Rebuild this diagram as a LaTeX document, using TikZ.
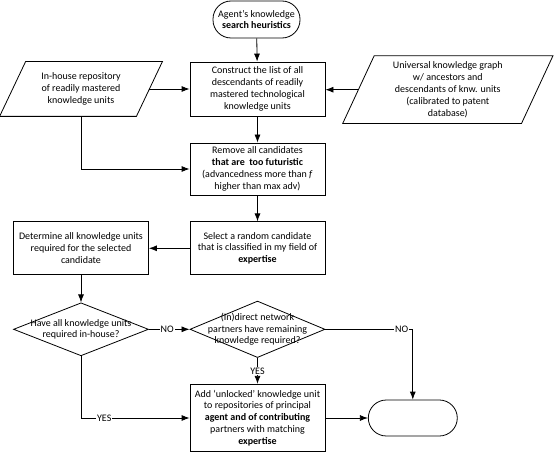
\documentclass[tikz,border=0pt]{standalone}
\usepackage{fontspec}
\setmainfont{Carlito}
\usepackage{tikz}
\usetikzlibrary{shapes.geometric,arrows.meta}

\tikzset{
    txt/.style={font=\fontsize{10}{11.9}\selectfont,align=center},
    proc/.style={draw,txt,minimum width=135,minimum height=53,inner sep=2pt},
    term/.style={draw,txt,rounded corners=18pt,minimum width=88,minimum height=36},
    io/.style={txt,inner sep=0pt},
    dec/.style={draw,diamond,minimum width=135,minimum height=53,inner sep=0pt},
    arr/.style={-{Latex[length=8pt,width=6pt]}},
    yn/.style={txt,fill=white,inner sep=1pt}
}

\begin{document}
\begin{tikzpicture}[x=1pt,y=-1pt,line width=0.8pt]
    \useasboundingbox (0,0) rectangle (555,452);
    \node[term,minimum width=87,minimum height=37] (1) at (256.5,19.5) {Agent’s knowledge\\\textbf{search heuristics}};
    \node[io,minimum width=136,minimum height=54] (2) at (81,89) {In-house repository\\of readily mastered\\knowledge units};
    \node[proc,minimum height=54] (3) at (257.5,89) {Construct the list of all\\descendants of readily\\mastered technological\\knowledge units};
    \node[io,minimum width=178,minimum height=67] (4) at (447.8,89.7) {Universal knowledge graph\\w/ ancestors and\\descendants of knw. units\\(calibrated to patent\\database)};
    \node[proc,minimum height=52] (5) at (257.5,169) {Remove all candidates\\\textbf{that are~ too futuristic}\\(advancedness more than \textit{f}\\higher than max adv)};
    \node[proc] (6) at (257.5,248.3) {Select a random candidate\\that is classified in my field of\\\textbf{expertise}};
    \node[proc] (7) at (81,248.3) {Determine all knowledge units\\required for the selected\\candidate};
    \node[dec,label={[txt]center:{Have all knowledge units\\required in-house?}}] (8) at (81,329.3) {};
    \node[dec,minimum height=56.5,label={[txt]center:{(In)direct network\\partners have remaining\\knowledge required?}}] (9) at (257.5,329.3) {};
    \node[proc,minimum height=67.5] (10) at (257.5,418) {Add ‘unlocked’ knowledge unit\\to repositories of principal\\\textbf{agent and of contributing}\\partners with matching\\\textbf{expertise}};
    \node[term,minimum width=89] (11) at (412.8,418) {};
    \draw ([xshift=13]2.north west) -- ([xshift=13]2.north east) -- ([xshift=-13]2.south east) -- ([xshift=-13]2.south west) -- cycle;
    \draw ([xshift=15.75]4.north west) -- ([xshift=15.75]4.north east) -- ([xshift=-15.75]4.south east) -- ([xshift=-15.75]4.south west) -- cycle;
    \draw[arr] (1) -- (3);
    \draw[arr] (2.east) -- (2.east -| 3.west);
    \draw[arr] (4.west) -- (4.west -| 3.east);
    \draw[arr] (2.south) |- (5.west);
    \draw[arr] (3) -- (5);
    \draw[arr] (5) -- (6);
    \draw[arr] (6) -- (7);
    \draw[arr] (7) -- (8);
    \draw[arr] (8) -- node[yn,pos=0.45] {NO} (9);
    \draw[arr] (9.east) -| node[yn,pos=0.436] {NO} (11.north);
    \draw[arr] (9) -- node[yn] {YES} (10);
    \draw[arr] (8.south) |- node[yn,pos=0.607] {YES} (10.west);
    \draw[arr] (10) -- (11);
\end{tikzpicture}
\end{document}
